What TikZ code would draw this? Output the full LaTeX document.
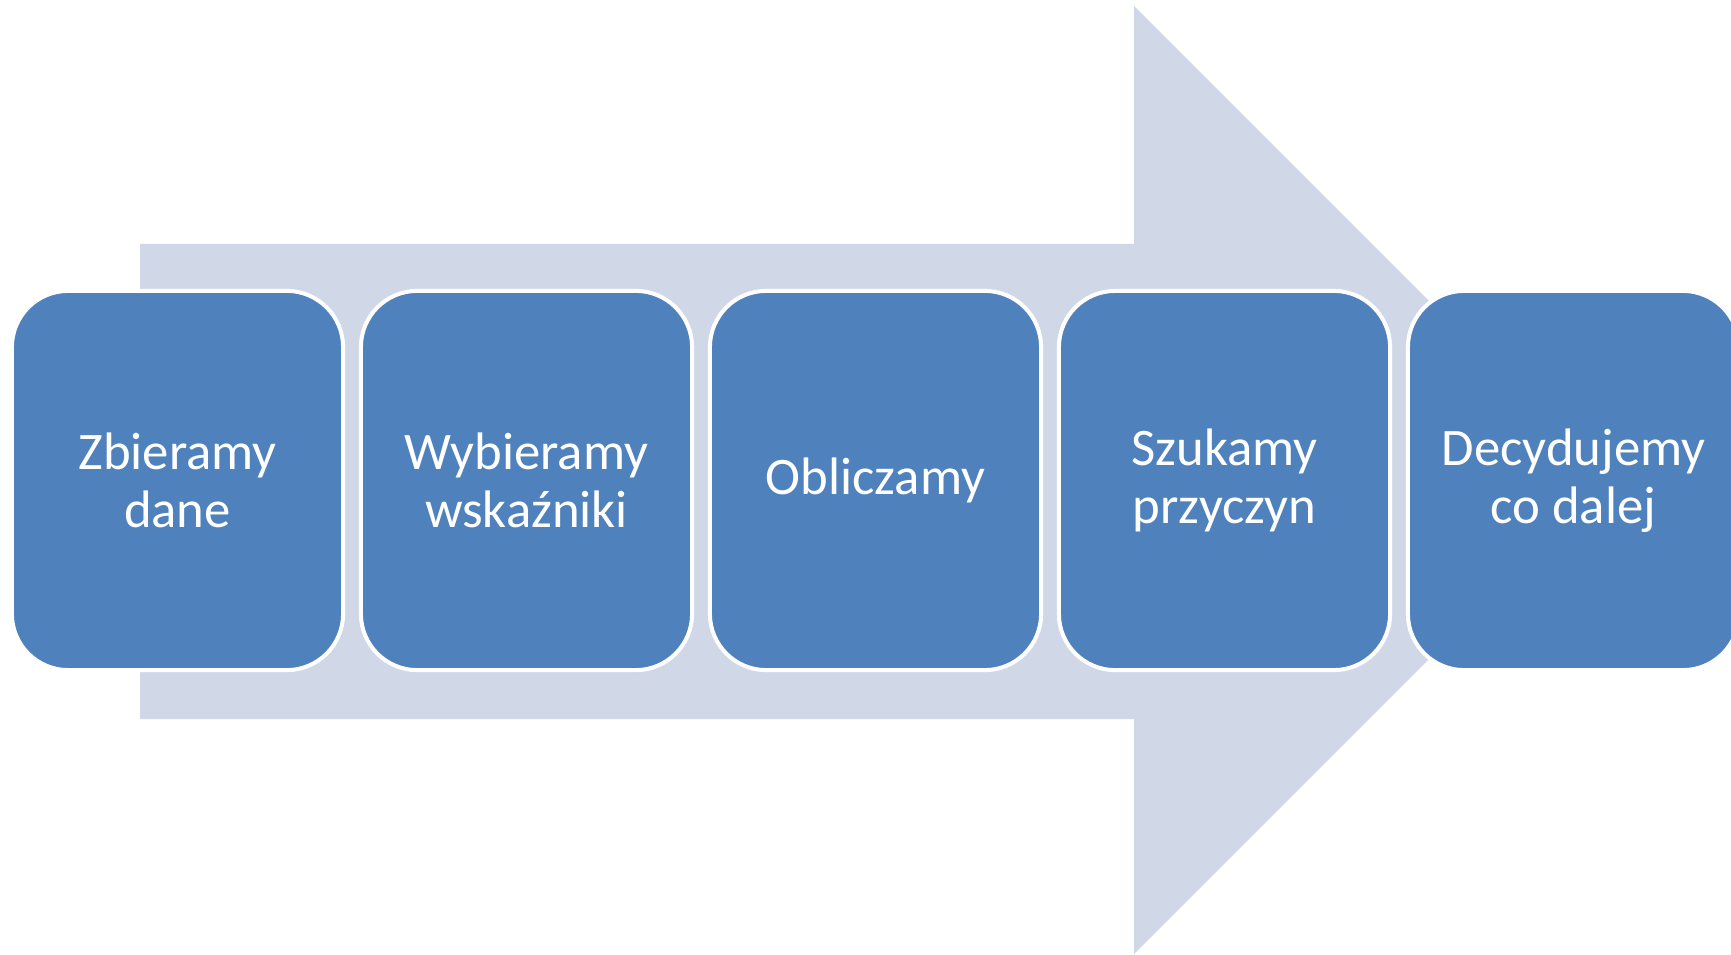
\documentclass[tikz,border=0pt]{standalone}
\usepackage{fontspec}
\setmainfont{Carlito}
\definecolor{boxblue}{HTML}{4F81BD}
\definecolor{arrowfill}{HTML}{D0D8E8}
\begin{document}
\begin{tikzpicture}[x=0.01cm,y=-0.01cm,
  stepbox/.style={rectangle, rounded corners=16pt, fill=boxblue, draw=white,
    line width=1.14pt, minimum width=3.31cm, minimum height=3.79cm,
    inner sep=0pt, text=white, align=center,
    font=\fontsize{15}{16.5}\selectfont}]
\useasboundingbox (0,0) rectangle (1731,955);
\clip (0,0) rectangle (1731,955);
\fill[arrowfill] (140,244) -- (1134,244) -- (1134,6) -- (1608,480)
  -- (1134,954) -- (1134,719) -- (140,719) -- cycle;
\node[stepbox] (b1) at (177.5,480.5) {Zbieramy\\dane};
\node[stepbox] (b2) at (526.5,480.5) {Wybieramy\\wskaźniki};
\node[stepbox] (b3) at (875.5,480.5) {Obliczamy};
\node[stepbox] (b4) at (1224.5,480.5) {Szukamy\\przyczyn};
\node[stepbox] (b5) at (1573.5,480.5) {Decydujemy\\co dalej};
\end{tikzpicture}
\end{document}
